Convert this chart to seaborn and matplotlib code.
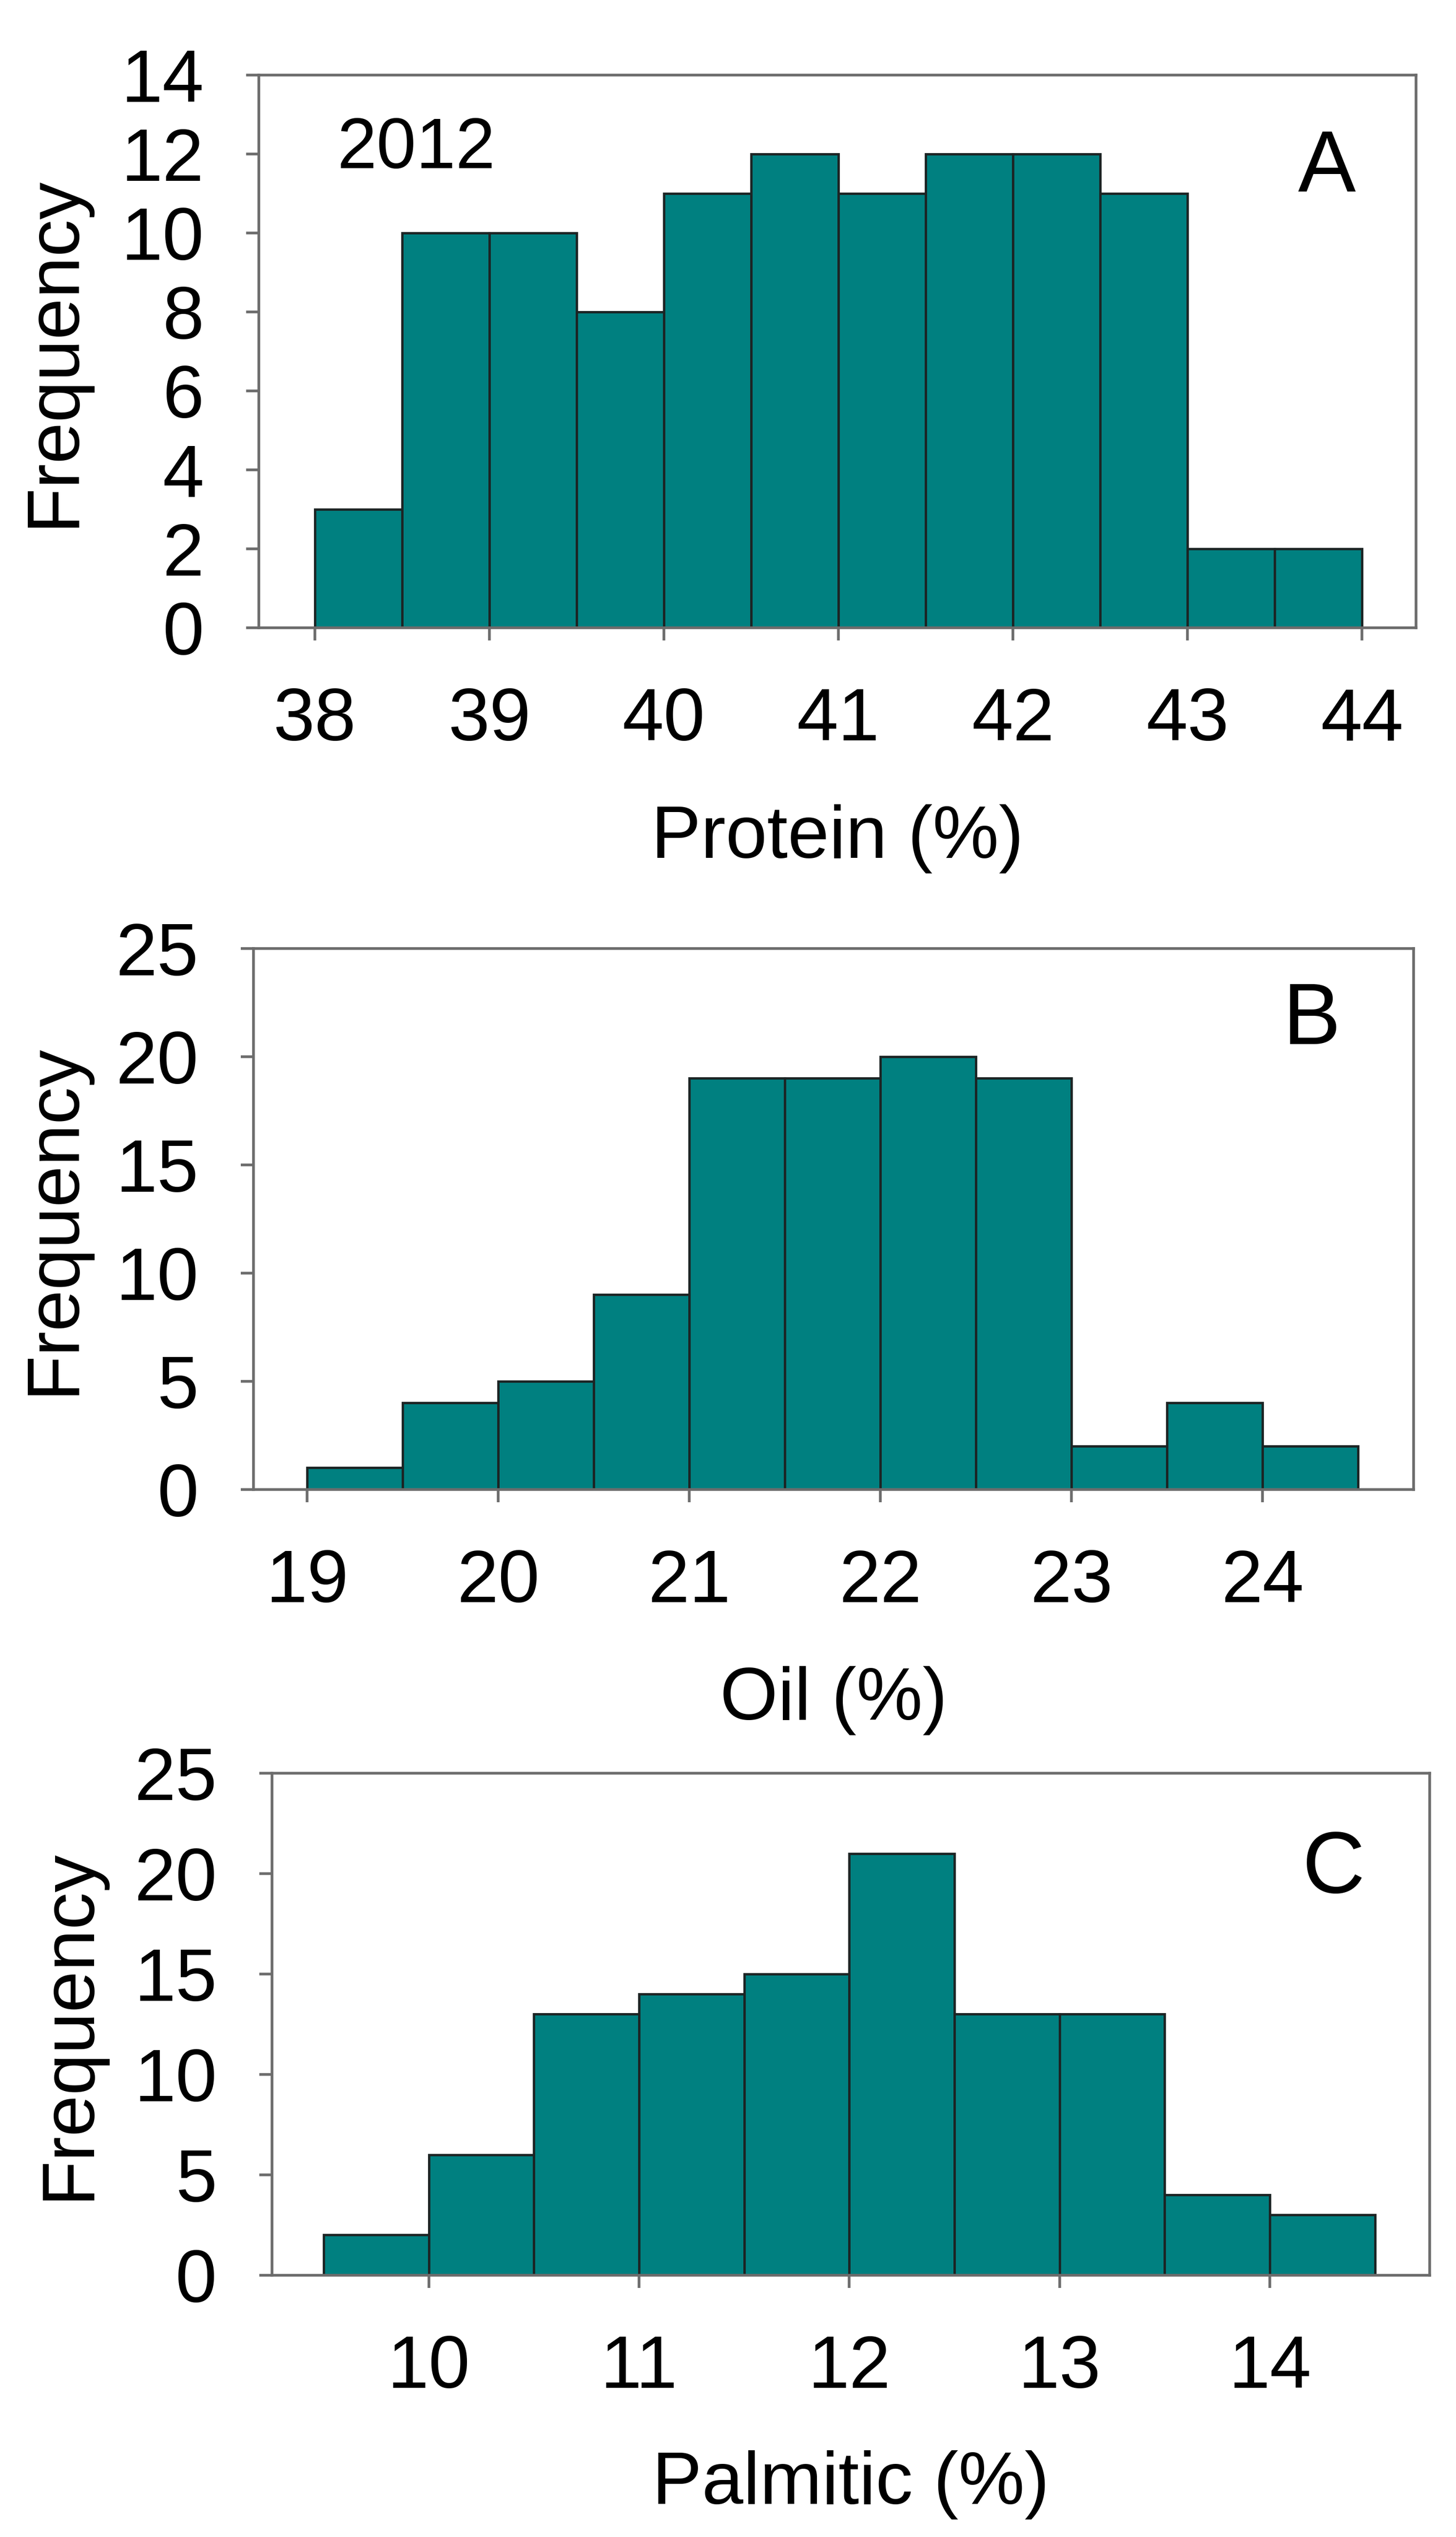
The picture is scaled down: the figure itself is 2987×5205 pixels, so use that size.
import matplotlib
matplotlib.use("Agg")
import matplotlib.pyplot as plt
import numpy as np
import pandas as pd
import seaborn as sns

# histogram counts (bin width 0.5)
protein_counts = [3, 10, 10, 8, 11, 12, 11, 12, 12, 11, 2, 2]
protein_start = 38.0
oil_counts = [1, 4, 5, 9, 19, 19, 20, 19, 2, 4, 2]
oil_start = 19.0
palmitic_counts = [2, 6, 13, 14, 15, 21, 13, 13, 4, 3]
palmitic_start = 9.5
bin_width = 0.5

protein_ticks = [38, 39, 40, 41, 42, 43, 44]
oil_ticks = [19, 20, 21, 22, 23, 24]
palmitic_ticks = [10, 11, 12, 13, 14]

sns.set_theme(style="white")
plt.rcParams["font.family"] = ["Liberation Sans", "DejaVu Sans"]

BAR = "#008080"
EDGE = "#1c2424"
SPINE = "#6c6c6c"
FS = 110

fig = plt.figure(figsize=(29.87, 52.05), dpi=100)


def draw_panel(rect, counts, start, xlim, xticks, ylim, ystep, xlabel, letter,
               letter_pos, ylabel_x, xlabel_y):
    ax = fig.add_axes(rect)
    edges = start + bin_width * np.arange(len(counts) + 1)
    df = pd.DataFrame({"center": (edges[:-1] + edges[1:]) / 2, "count": counts})
    sns.histplot(data=df, x="center", weights="count", bins=edges.tolist(), ax=ax,
                 color=BAR, edgecolor=EDGE, linewidth=3.5, alpha=1)
    ax.set_xlim(*xlim)
    ax.set_ylim(*ylim)
    ax.set_xticks(xticks)
    ax.set_yticks(np.arange(ylim[0], ylim[1] + 0.1, ystep))
    for s in ax.spines.values():
        s.set_visible(True)
        s.set_color(SPINE)
        s.set_linewidth(4)
    ax.tick_params(axis="both", which="major", direction="out", length=19,
                   width=4, color=SPINE, labelsize=FS, labelcolor="black",
                   bottom=True, left=True)
    ax.tick_params(axis="x", pad=68)
    ax.tick_params(axis="y", pad=62)
    ax.set_xlabel(xlabel, fontsize=FS, color="black")
    ax.set_ylabel("Frequency", fontsize=FS, color="black")
    ax.xaxis.set_label_coords(0.5, xlabel_y)
    ax.yaxis.set_label_coords(ylabel_x, 0.5)
    ax.text(letter_pos[0], letter_pos[1], letter, transform=ax.transAxes,
            fontsize=128, ha="center", va="baseline", color="black")
    return ax


ax_a = draw_panel([0.1778, 0.7525, 0.7948, 0.2179], protein_counts, protein_start,
                  (37.68, 44.31), protein_ticks, (0, 14), 2, "Protein (%)", "A",
                  (0.923, 0.789), -0.147, -0.319)
ax_a.text(0.136, 0.832, "2012", transform=ax_a.transAxes, fontsize=105,
          ha="center", va="baseline", color="black")

draw_panel([0.1741, 0.4129, 0.7968, 0.2133], oil_counts, oil_start,
           (18.72, 24.79), oil_ticks, (0, 25), 5, "Oil (%)", "B",
           (0.912, 0.823), -0.142, -0.326)

draw_panel([0.1868, 0.1032, 0.7951, 0.1979], palmitic_counts, palmitic_start,
           (9.254, 14.76), palmitic_ticks, (0, 25), 5, "Palmitic (%)", "C",
           (0.917, 0.762), -0.145, -0.349)

fig.savefig("out.png", dpi=100, facecolor="white")
plt.close(fig)
